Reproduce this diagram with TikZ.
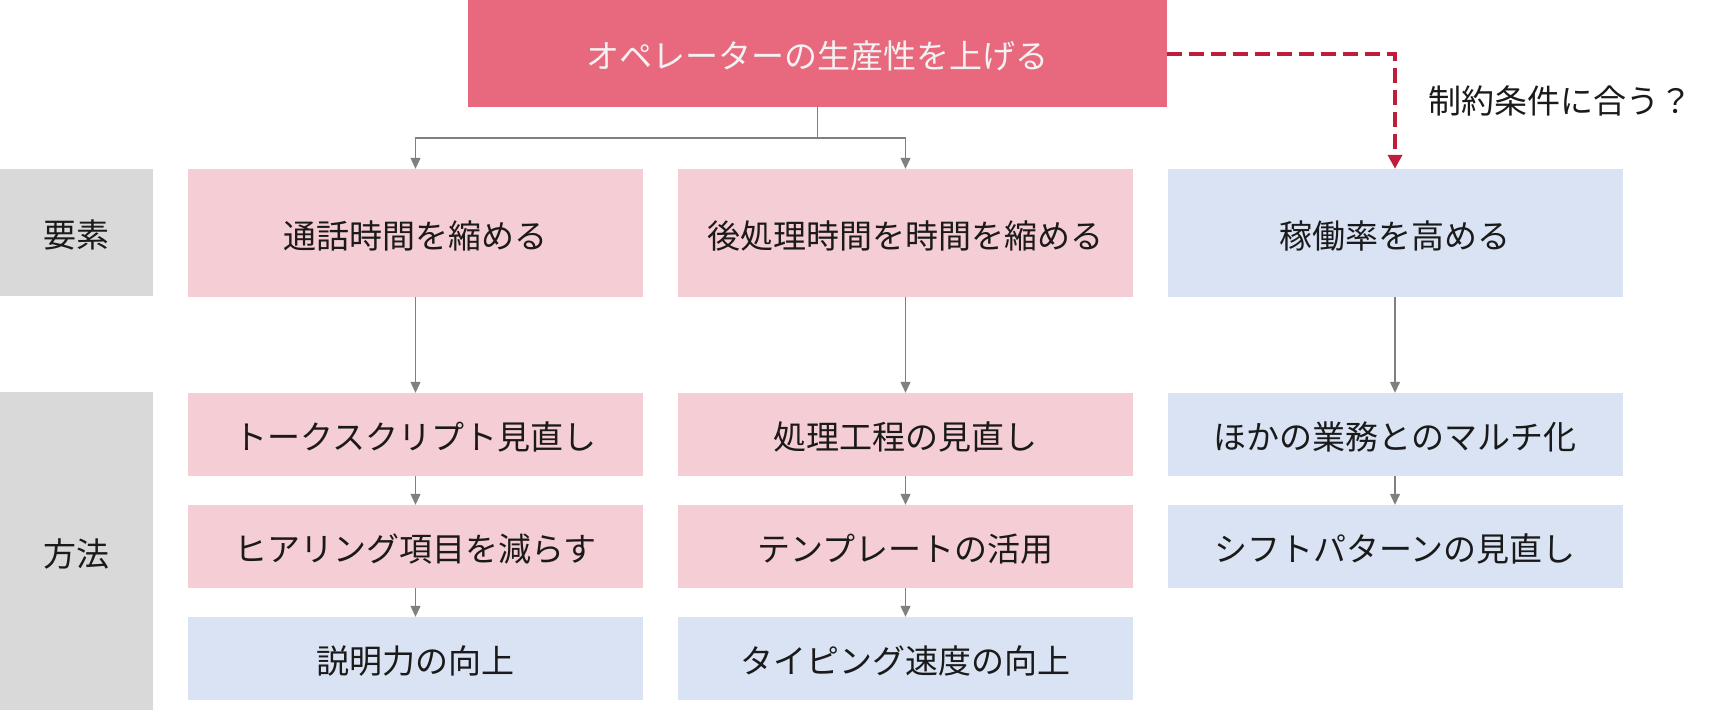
\documentclass[tikz,border=0pt]{standalone}
\usepackage{fontspec}
\setmainfont{Noto Sans CJK JP}
\usetikzlibrary{arrows.meta}
\definecolor{topred}{HTML}{E8697E}
\definecolor{pinkbox}{HTML}{F5CDD4}
\definecolor{bluebox}{HTML}{DAE3F3}
\definecolor{graybox}{HTML}{D9D9D9}
\definecolor{dashred}{HTML}{BE1E3C}
\definecolor{txt}{HTML}{1A1A1A}
\definecolor{conngray}{HTML}{808080}
\tikzset{
  jtext/.style={font=\fontsize{33}{40}\selectfont, text height=32pt, text depth=2pt},
  box/.style={rectangle, inner sep=0pt, minimum width=455pt, text=txt, jtext},
  pinkfill/.style={box, fill=pinkbox},
  bluefill/.style={box, fill=bluebox},
  tall/.style={minimum height=128pt},
  short/.style={minimum height=83pt},
  side/.style={rectangle, inner sep=0pt, minimum width=153pt, fill=graybox, text=txt, jtext},
  conn/.style={draw=conngray, line width=1.2pt, -{Triangle[width=10pt,length=11pt]}},
  plain/.style={draw=conngray, line width=1.2pt},
  redconn/.style={draw=dashred, line width=4pt, dash pattern=on 15pt off 7pt, -{Triangle[width=14pt,length=14pt]}},
}
\begin{document}
\begin{tikzpicture}[x=1pt,y=-1pt]
\useasboundingbox (0,0) rectangle (1716,710);
% top
\node[rectangle, inner sep=0pt, minimum width=699pt, minimum height=107pt, fill=topred, text=white!95!black, jtext] (top) at (817.5,53.5) {オペレーターの生産性を上げる};
\node[anchor=west, inner sep=0pt, text=txt, jtext] (cond) at (1428,98) {制約条件に合う？};
% side labels
\node[side, minimum height=127pt] (yoso) at (76.5,232.5) {要素};
\node[side, minimum height=318pt] (hoho) at (76.5,551) {方法};
% column 1
\node[pinkfill, tall] (a1) at (415.5,233) {通話時間を縮める};
\node[pinkfill, short] (a2) at (415.5,434.5) {トークスクリプト見直し};
\node[pinkfill, short] (a3) at (415.5,546.5) {ヒアリング項目を減らす};
\node[bluefill, short] (a4) at (415.5,658.5) {説明力の向上};
% column 2
\node[pinkfill, tall] (b1) at (905.5,233) {後処理時間を時間を縮める};
\node[pinkfill, short] (b2) at (905.5,434.5) {処理工程の見直し};
\node[pinkfill, short] (b3) at (905.5,546.5) {テンプレートの活用};
\node[bluefill, short] (b4) at (905.5,658.5) {タイピング速度の向上};
% column 3
\node[bluefill, tall] (c1) at (1395,233) {稼働率を高める};
\node[bluefill, short] (c2) at (1395,434.5) {ほかの業務とのマルチ化};
\node[bluefill, short] (c3) at (1395,546.5) {シフトパターンの見直し};
% connectors
\coordinate (split) at (817.5,138);
\draw[plain] (top.south) -- (split);
\draw[conn] (split) -| (a1.north);
\draw[conn] (split) -| (b1.north);
\draw[redconn] (top.east) -| (c1.north);
\draw[conn] (a1.south) -- (a2.north);
\draw[conn] (a2.south) -- (a3.north);
\draw[conn] (a3.south) -- (a4.north);
\draw[conn] (b1.south) -- (b2.north);
\draw[conn] (b2.south) -- (b3.north);
\draw[conn] (b3.south) -- (b4.north);
\draw[conn] (c1.south) -- (c2.north);
\draw[conn] (c2.south) -- (c3.north);
\end{tikzpicture}
\end{document}
